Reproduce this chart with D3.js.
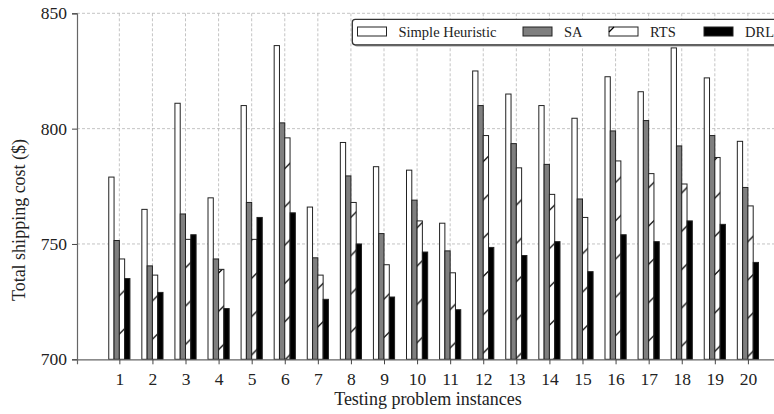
<!DOCTYPE html>
<html>
<head>
<meta charset="utf-8">
<script src="https://cdn.jsdelivr.net/npm/d3@7"></script>
<style>
  body { margin: 0; background: #fff; }
  svg text { font-family: "Liberation Serif", "DejaVu Serif", serif; fill: #222; }
</style>
</head>
<body>
<svg id="chart" width="774" height="414"></svg>
<script>
// problem instances 1..20
const instances = d3.range(1, 21);
const seriesNames = ["Simple Heuristic", "SA", "RTS", "DRL"];

const heuristic = [779, 765, 811, 770, 810, 836, 766, 794, 783.5, 782, 759, 825, 815, 810, 804.5, 822.5, 816, 835, 822, 794.5];
const sa = [751.5, 740.5, 763, 743.5, 768, 802.5, 744, 779.5, 754.5, 769, 747, 810, 793.5, 784.5, 769.5, 799, 803.5, 792.5, 797, 774.5];
const rts = [743.5, 736.5, 752, 739, 752, 796, 736.5, 768, 741, 760, 737.5, 797, 783, 771.5, 761.5, 786, 780.5, 776, 787.5, 766.5];
const drl = [735, 729, 754, 722, 761.5, 763.5, 726, 750, 727, 746.5, 721.5, 748.5, 745, 751, 738, 754, 751, 760, 758.5, 742];

const yTicks = [700, 750, 800, 850];

const series = [heuristic, sa, rts, drl];
const fills = ["#fff", "#7f7f7f", "url(#hatch)", "#000"];

const svg = d3.select("#chart");
const pLeft = 77, pRight = 779, pTop = 13.3, pBottom = 359.3;

const x = d3.scaleLinear().domain([-0.28, 20.94]).range([pLeft, pRight]);
const y = d3.scaleLinear().domain([700, 850]).range([pBottom, pTop]);
const bw = 0.16; // bar width in data units

// hatch pattern for RTS
const hs = 38.3, off = 32;
const pat = svg.append("defs").append("pattern")
  .attr("id", "hatch")
  .attr("patternUnits", "userSpaceOnUse")
  .attr("width", hs).attr("height", hs);
pat.append("rect").attr("width", hs).attr("height", hs).attr("fill", "#fff");
pat.append("path")
  .attr("d", `M-1,${off + 1} L${off + 1},-1 M${off - 1},${hs + 1} L${hs + 1},${off - 1}`)
  .attr("stroke", "#000").attr("stroke-width", 1.3);

// grid
svg.append("g").selectAll("line").data(yTicks.slice(1)).join("line")
  .attr("x1", pLeft).attr("x2", pRight)
  .attr("y1", d => y(d)).attr("y2", d => y(d))
  .attr("stroke", "#b5b5b5").attr("stroke-width", 0.8).attr("stroke-dasharray", "3,2");
svg.append("g").selectAll("line").data(instances).join("line")
  .attr("x1", d => x(d)).attr("x2", d => x(d))
  .attr("y1", pTop).attr("y2", pBottom)
  .attr("stroke", "#b5b5b5").attr("stroke-width", 0.8).attr("stroke-dasharray", "3,2");

// bars
series.forEach((vals, s) => {
  svg.append("g").selectAll("rect").data(vals).join("rect")
    .attr("x", (d, i) => x(instances[i] + (s - 2) * bw))
    .attr("y", d => y(d))
    .attr("width", x(bw) - x(0))
    .attr("height", d => y(700) - y(d))
    .attr("fill", fills[s])
    .attr("stroke", "#222")
    .attr("stroke-width", 1);
});

// axes
const xAxis = svg.append("g").attr("transform", `translate(0,${pBottom})`)
  .call(d3.axisBottom(x).tickValues(instances).tickFormat(d3.format("d")).tickSize(5).tickPadding(8));
const yAxis = svg.append("g").attr("transform", `translate(${pLeft},0)`)
  .call(d3.axisLeft(y).tickValues(yTicks).tickSize(5).tickPadding(5));
[xAxis, yAxis].forEach(g => {
  g.select(".domain").attr("stroke", "#666").attr("stroke-width", 1.2);
  g.selectAll(".tick line").attr("stroke", "#444").attr("stroke-width", 1);
  g.selectAll(".tick text").attr("font-size", 17.5).attr("font-family", "Liberation Serif").attr("fill", "#222");
});

svg.append("text")
  .attr("x", (pLeft + pRight) / 2).attr("y", 405)
  .attr("text-anchor", "middle").attr("font-size", 18)
  .text("Testing problem instances");
svg.append("text")
  .attr("transform", "translate(25,220) rotate(-90)")
  .attr("text-anchor", "middle").attr("font-size", 18)
  .text("Total shipping cost ($)");

// legend
const lg = svg.append("g");
lg.append("rect").attr("x", 354).attr("y", 21).attr("width", 440).attr("height", 25.5)
  .attr("rx", 3).attr("fill", "#999");
lg.append("rect").attr("x", 352.3).attr("y", 19.3).attr("width", 440).attr("height", 25.5)
  .attr("rx", 3).attr("fill", "#fff").attr("stroke", "#333").attr("stroke-width", 1.3);
const legX = [357.5, 523, 609, 704];
seriesNames.forEach((name, s) => {
  lg.append("rect").attr("x", legX[s]).attr("y", 27).attr("width", 29).attr("height", 9)
    .attr("fill", s === 2 ? "#fff" : fills[s]).attr("stroke", "#222").attr("stroke-width", 1);
  if (s === 2) {
    lg.append("line").attr("x1", legX[s]).attr("y1", 32).attr("x2", legX[s] + 5).attr("y2", 27)
      .attr("stroke", "#000").attr("stroke-width", 1.3);
  }
  lg.append("text").attr("x", legX[s] + 41).attr("y", 36.5).attr("font-size", 14.5).text(name);
});
</script>
</body>
</html>
